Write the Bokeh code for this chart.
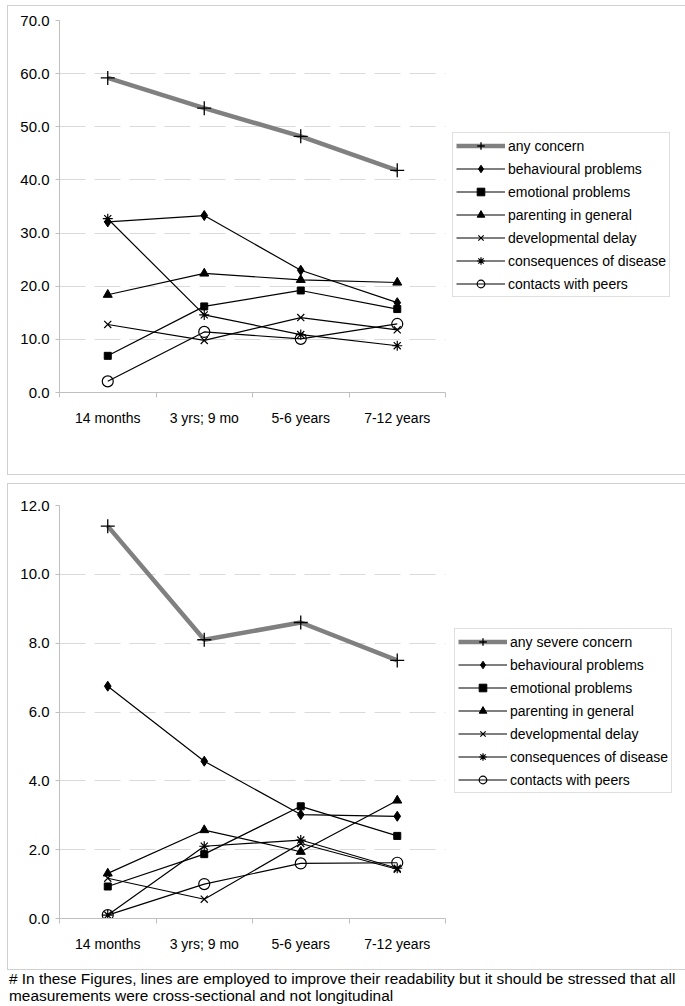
from bokeh.plotting import figure
from bokeh.models import Range1d, FixedTicker, NumeralTickFormatter, Legend, LegendItem, Div, Spacer
from bokeh.layouts import column
from bokeh.embed import file_html
from bokeh.resources import INLINE

categories = ["14 months", "3 yrs; 9 mo", "5-6 years", "7-12 years"]

labels_top = ["any concern", "behavioural problems", "emotional problems",
              "parenting in general", "developmental delay",
              "consequences of disease", "contacts with peers"]
labels_bot = ["any severe concern", "behavioural problems", "emotional problems",
              "parenting in general", "developmental delay",
              "consequences of disease", "contacts with peers"]

top_any = [59.2, 53.5, 48.2, 41.8]
top_behav = [32.1, 33.3, 23.0, 16.9]
top_emot = [6.9, 16.2, 19.2, 15.7]
top_parent = [18.4, 22.4, 21.2, 20.7]
top_dev = [12.8, 9.8, 14.1, 11.8]
top_cons = [32.7, 14.6, 10.9, 8.8]
top_peers = [2.1, 11.4, 10.1, 12.9]

bot_any = [11.4, 8.1, 8.6, 7.5]
bot_behav = [6.75, 4.57, 3.02, 2.97]
bot_emot = [0.93, 1.87, 3.26, 2.40]
bot_parent = [1.31, 2.57, 1.94, 3.43]
bot_dev = [1.17, 0.56, 2.18, 1.43]
bot_cons = [0.10, 2.10, 2.28, 1.46]
bot_peers = [0.10, 1.00, 1.60, 1.62]

top_ticks = [0, 10, 20, 30, 40, 50, 60, 70]
bot_ticks = [0, 2, 4, 6, 8, 10, 12]

footnote = ("# In these Figures, lines are employed to improve their readability but it should be stressed that all"
            "<br>measurements were cross-sectional and not longitudinal")

FONT = "Liberation Sans"
markers = ["cross", "diamond", "square", "triangle", "x", "asterisk", "circle"]
msizes = [14, 10, 7, 9, 10, 10, 11]


def make_chart(labels, series, yticks, frame_h, mb_top, mb_bottom, leg_loc):
    n = len(categories)
    xs = [i + 0.5 for i in range(n)]
    p = figure(frame_width=384, frame_height=frame_h,
               x_range=Range1d(0, n), y_range=Range1d(yticks[0], yticks[-1]),
               output_backend="svg", toolbar_location=None,
               min_border_left=51, min_border_right=234,
               min_border_top=mb_top, min_border_bottom=mb_bottom,
               styles={"border": "1px solid #d0d0d0"})
    p.outline_line_color = None
    p.background_fill_color = "white"
    p.border_fill_color = "white"

    xa = p.xaxis[0]
    xa.ticker = FixedTicker(ticks=xs, minor_ticks=list(range(n + 1)))
    xa.major_label_overrides = {x: c for x, c in zip(xs, categories)}
    xa.major_tick_line_color = None
    xa.major_tick_out = 0
    xa.major_tick_in = 0
    xa.minor_tick_line_color = "#bfbfbf"
    xa.minor_tick_out = 5
    xa.minor_tick_in = 0
    xa.axis_line_color = "#bfbfbf"
    xa.major_label_standoff = 12
    xa.major_label_text_font = FONT
    xa.major_label_text_font_size = "14px"
    xa.major_label_text_color = "black"

    ya = p.yaxis[0]
    ya.ticker = FixedTicker(ticks=yticks, minor_ticks=[])
    ya.formatter = NumeralTickFormatter(format="0.0")
    ya.axis_line_color = "#bfbfbf"
    ya.major_tick_line_color = "#bfbfbf"
    ya.major_tick_out = 4
    ya.major_tick_in = 0
    ya.minor_tick_line_color = None
    ya.major_label_standoff = 6
    ya.major_label_text_font = FONT
    ya.major_label_text_font_size = "15px"
    ya.major_label_text_color = "black"

    p.xgrid.grid_line_color = None
    p.ygrid.grid_line_color = "#d9d9d9"
    p.ygrid.grid_line_dash = "26 9"
    p.ygrid.grid_line_width = 1

    items = []
    for k, (lab, vals) in enumerate(zip(labels, series)):
        if k == 0:
            lr = p.line(xs, vals, line_color="#808080", line_width=4.5)
            sr = p.scatter(xs, vals, marker="cross", size=msizes[k],
                           line_color="black", line_width=1.3)
        else:
            lr = p.line(xs, vals, line_color="black", line_width=1.2)
            if markers[k] == "circle":
                sr = p.scatter(xs, vals, marker="circle", size=msizes[k],
                               line_color="black", fill_color=None, line_width=1.2)
            elif markers[k] in ("x", "asterisk"):
                sr = p.scatter(xs, vals, marker=markers[k], size=msizes[k],
                               line_color="black", line_width=1.2)
            else:
                sr = p.scatter(xs, vals, marker=markers[k], size=msizes[k],
                               line_color="black", fill_color="black")
        items.append(LegendItem(label=lab, renderers=[lr, sr]))

    leg = Legend(items=items, location=leg_loc, margin=0, padding=3, spacing=4,
                 glyph_width=49, glyph_height=19, label_height=19,
                 label_standoff=3, label_text_font=FONT,
                 label_text_font_size="14px", label_text_color="black",
                 border_line_color="#bfbfbf", border_line_width=1,
                 background_fill_color="white", background_fill_alpha=1.0)
    p.add_layout(leg, "right")
    return p


p1 = make_chart(labels_top,
                [top_any, top_behav, top_emot, top_parent, top_dev, top_cons, top_peers],
                top_ticks, 370, 14, 84, (7, 95))
p2 = make_chart(labels_bot,
                [bot_any, bot_behav, bot_emot, bot_parent, bot_dev, bot_cons, bot_peers],
                bot_ticks, 411, 21, 53, (9, 125))

note = Div(text=footnote, width=675, margin=(0, 0, 0, 2),
           styles={"font-family": FONT, "font-size": "15.4px",
                   "line-height": "17px", "color": "black"})

layout = column(p1, Spacer(height=8), p2, note, spacing=0, margin=(5, 0, 0, 7))

open("out.html", "w").write(file_html(layout, INLINE))
